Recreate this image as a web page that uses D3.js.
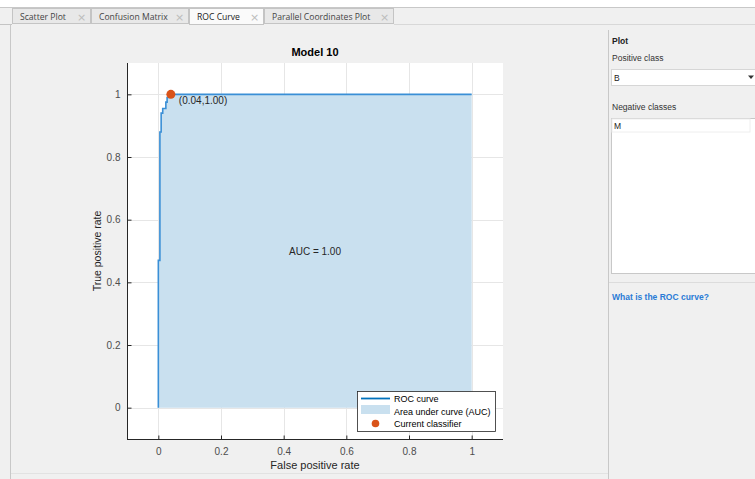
<!DOCTYPE html>
<html>
<head>
<meta charset="utf-8">
<script src="https://cdn.jsdelivr.net/npm/d3@7"></script>
<style>
  html, body { margin: 0; padding: 0; background: #f0f0f0; }
  svg { display: block; font-family: "Liberation Sans", Arial, sans-serif; }
</style>
</head>
<body>
<svg id="app" width="755" height="479"></svg>
<script>
// ROC curve points (false positive rate, true positive rate)
const fpr = [0, 0, 0.005, 0.005, 0.009, 0.009, 0.014, 0.014, 0.024, 0.024, 0.028, 0.028, 0.033, 0.033, 1.0];
const tpr = [0, 0.47, 0.47, 0.88, 0.88, 0.94, 0.94, 0.955, 0.955, 0.975, 0.975, 0.99, 0.99, 1.0, 1.0];
const currentClassifier = [0.04, 1.00];
const aucValue = 1.00;
const xTicks = [0, 0.2, 0.4, 0.6, 0.8, 1];
const yTicks = [0, 0.2, 0.4, 0.6, 0.8, 1];
const tabNames = ["Scatter Plot", "Confusion Matrix", "ROC Curve", "Parallel Coordinates Plot"];
const activeTab = "ROC Curve";
const positiveClass = "B";
const negativeClasses = ["M"];
const modelName = "Model 10";

const svg = d3.select("#app");
const uiFont = "'Open Sans', 'Noto Sans', sans-serif";

// ---------- window chrome: tab strip ----------
svg.append("rect").attr("x", 0).attr("y", 0).attr("width", 755).attr("height", 7).attr("fill", "#ffffff");
svg.append("line").attr("x1", 0).attr("x2", 755).attr("y1", 7.5).attr("y2", 7.5).attr("stroke", "#c8c8c8");
svg.append("rect").attr("x", 0).attr("y", 8).attr("width", 755).attr("height", 16).attr("fill", "#f0f0f0");

const tabWidths = [79, 98, 75, 130];
let tx = 12;
const tabG = svg.append("g");
tabNames.forEach((name, i) => {
  const w = tabWidths[i];
  const active = name === activeTab;
  tabG.append("rect")
    .attr("x", tx + 0.5).attr("y", 8.5).attr("width", w - 1).attr("height", active ? 16 : 15)
    .attr("fill", active ? "#fafafa" : "#e8e8e8")
    .attr("stroke", "#c4c4c4");
  tabG.append("text")
    .attr("x", tx + 8).attr("y", 20)
    .attr("font-family", uiFont).attr("font-size", 8.6)
    .attr("fill", active ? "#1a1a1a" : "#444")
    .text(name);
  tabG.append("text")
    .attr("x", tx + w - 14).attr("y", 20.5)
    .attr("font-family", "'DejaVu Sans', sans-serif").attr("font-size", 11)
    .attr("fill", "#bcbcbc")
    .text("\u00d7");
  tx += w;
});
svg.append("line").attr("x1", 0).attr("x2", 12).attr("y1", 24.5).attr("y2", 24.5).attr("stroke", "#c4c4c4");
svg.append("line").attr("x1", tx).attr("x2", 755).attr("y1", 24.5).attr("y2", 24.5).attr("stroke", "#d8d8d8");

// left border of the document area
svg.append("line").attr("x1", 10.5).attr("x2", 10.5).attr("y1", 25).attr("y2", 479).attr("stroke", "#c8c8c8");
// bottom edge of the plot panel
svg.append("line").attr("x1", 11).attr("x2", 608).attr("y1", 473.5).attr("y2", 473.5).attr("stroke", "#e2e2e2");

// ---------- plot ----------
const plot = { left: 127, right: 503, top: 63, bottom: 439 };
const x = d3.scaleLinear().domain([-0.1, 1.1]).range([plot.left, plot.right]);
const y = d3.scaleLinear().domain([-0.1, 1.1]).range([plot.bottom, plot.top]);

svg.append("rect")
  .attr("x", plot.left).attr("y", plot.top)
  .attr("width", plot.right - plot.left).attr("height", plot.bottom - plot.top)
  .attr("fill", "#ffffff");

// grid
const grid = svg.append("g").attr("stroke", "#e6e6e6").attr("stroke-width", 1);
xTicks.forEach(t => grid.append("line")
  .attr("x1", Math.round(x(t)) + 0.5).attr("x2", Math.round(x(t)) + 0.5)
  .attr("y1", plot.top).attr("y2", plot.bottom));
yTicks.forEach(t => grid.append("line")
  .attr("x1", plot.left).attr("x2", plot.right)
  .attr("y1", Math.round(y(t)) + 0.5).attr("y2", Math.round(y(t)) + 0.5));

// area under the curve
const pts = fpr.map((f, i) => [f, tpr[i]]);
const area = d3.area().x(d => x(d[0])).y0(y(0)).y1(d => y(d[1]));
svg.append("path").datum(pts).attr("d", area).attr("fill", "#c9e0ef");

// ROC curve
const line = d3.line().x(d => x(d[0])).y(d => y(d[1]));
svg.append("path").datum(pts).attr("d", line)
  .attr("fill", "none").attr("stroke", "#3a8fd6").attr("stroke-width", 1.6);

// current classifier marker
svg.append("circle")
  .attr("cx", x(currentClassifier[0])).attr("cy", y(currentClassifier[1]))
  .attr("r", 4.5).attr("fill", "#d95319");
svg.append("text")
  .attr("x", x(currentClassifier[0]) + 8).attr("y", y(currentClassifier[1]) + 10)
  .attr("font-size", 10).attr("fill", "#262626")
  .text(`(${currentClassifier[0].toFixed(2)},${currentClassifier[1].toFixed(2)})`);

// AUC label
svg.append("text")
  .attr("x", x(0.5)).attr("y", y(0.5) + 4)
  .attr("text-anchor", "middle").attr("font-size", 10).attr("fill", "#262626")
  .text(`AUC = ${aucValue.toFixed(2)}`);

// axes (ticks pointing inward)
const fmt = d => String(d);
const xAxis = d3.axisBottom(x).tickValues(xTicks).tickSize(-4).tickPadding(8).tickFormat(fmt);
const yAxis = d3.axisLeft(y).tickValues(yTicks).tickSize(-4).tickPadding(7).tickFormat(fmt);

const gx = svg.append("g").attr("transform", `translate(0,${plot.bottom + 0.5})`).call(xAxis);
const gy = svg.append("g").attr("transform", `translate(${plot.left + 0.5},0)`).call(yAxis);
[gx, gy].forEach(g => {
  g.select(".domain").attr("stroke", "#262626");
  g.selectAll(".tick line").attr("stroke", "#262626");
  g.selectAll(".tick text").attr("fill", "#4d4d4d").attr("font-size", 10)
    .attr("font-family", "'Liberation Sans', Arial, sans-serif");
});
gx.select(".domain").attr("d", `M${plot.left},0H${plot.right}`);
gy.select(".domain").attr("d", `M0,${plot.bottom}V${plot.top}`);

// title and axis labels
svg.append("text")
  .attr("x", (plot.left + plot.right) / 2).attr("y", 56)
  .attr("text-anchor", "middle").attr("font-size", 11).attr("font-weight", "bold")
  .attr("fill", "#000").text(modelName);
svg.append("text")
  .attr("x", (plot.left + plot.right) / 2).attr("y", 469)
  .attr("text-anchor", "middle").attr("font-size", 11).attr("fill", "#262626")
  .text("False positive rate");
svg.append("text")
  .attr("transform", `translate(101,${y(0.5)}) rotate(-90)`)
  .attr("text-anchor", "middle").attr("font-size", 10.5).attr("fill", "#262626")
  .text("True positive rate");

// legend
const lg = svg.append("g").attr("transform", "translate(357,391)");
lg.append("rect").attr("x", 0.5).attr("y", 0.5).attr("width", 138).attr("height", 40)
  .attr("fill", "#ffffff").attr("stroke", "#262626").attr("stroke-width", 0.8);
lg.append("line").attr("x1", 4).attr("x2", 33).attr("y1", 7.5).attr("y2", 7.5)
  .attr("stroke", "#0072bd").attr("stroke-width", 1.8);
lg.append("rect").attr("x", 4).attr("y", 14).attr("width", 29).attr("height", 9).attr("fill", "#c9e0ef");
lg.append("circle").attr("cx", 18.5).attr("cy", 32.5).attr("r", 3.8).attr("fill", "#d95319");
const legendLabels = ["ROC curve", "Area under curve (AUC)", "Current classifier"];
legendLabels.forEach((t, i) => lg.append("text")
  .attr("x", 37).attr("y", 11 + i * 12.5).attr("font-size", 9).attr("fill", "#000").text(t));

// ---------- right options panel ----------
svg.append("line").attr("x1", 608.5).attr("x2", 608.5).attr("y1", 30).attr("y2", 479).attr("stroke", "#c8c8c8");
const small = 8.5;
svg.append("text").attr("x", 612).attr("y", 44).attr("font-size", small).attr("font-weight", "bold")
  .attr("fill", "#222").text("Plot");
svg.append("text").attr("x", 612).attr("y", 61).attr("font-size", small).attr("fill", "#333").text("Positive class");
svg.append("rect").attr("x", 611.5).attr("y", 69.5).attr("width", 150).attr("height", 16)
  .attr("fill", "#ffffff").attr("stroke", "#d6d6d6");
svg.append("text").attr("x", 614).attr("y", 81).attr("font-size", small).attr("fill", "#222").text(positiveClass);
svg.append("path").attr("d", "M748,75.5L754,75.5L751,79Z").attr("fill", "#333");
svg.append("text").attr("x", 612).attr("y", 110).attr("font-size", small).attr("fill", "#333").text("Negative classes");
svg.append("rect").attr("x", 611.5).attr("y", 118.5).attr("width", 150).attr("height", 155)
  .attr("fill", "#ffffff").attr("stroke", "#c8c8c8");
negativeClasses.forEach((c, i) => {
  svg.append("rect").attr("x", 612).attr("y", 119 + i * 14).attr("width", 138).attr("height", 13)
    .attr("fill", "#ffffff").attr("stroke", "#eeeeee");
  svg.append("text").attr("x", 614).attr("y", 129 + i * 14).attr("font-size", small).attr("fill", "#222").text(c);
});
svg.append("line").attr("x1", 609).attr("x2", 755).attr("y1", 282.5).attr("y2", 282.5).attr("stroke", "#dcdcdc");
svg.append("text").attr("x", 612).attr("y", 300).attr("font-size", small).attr("font-weight", "bold")
  .attr("fill", "#2a7bd6").text("What is the ROC curve?");
</script>
</body>
</html>
